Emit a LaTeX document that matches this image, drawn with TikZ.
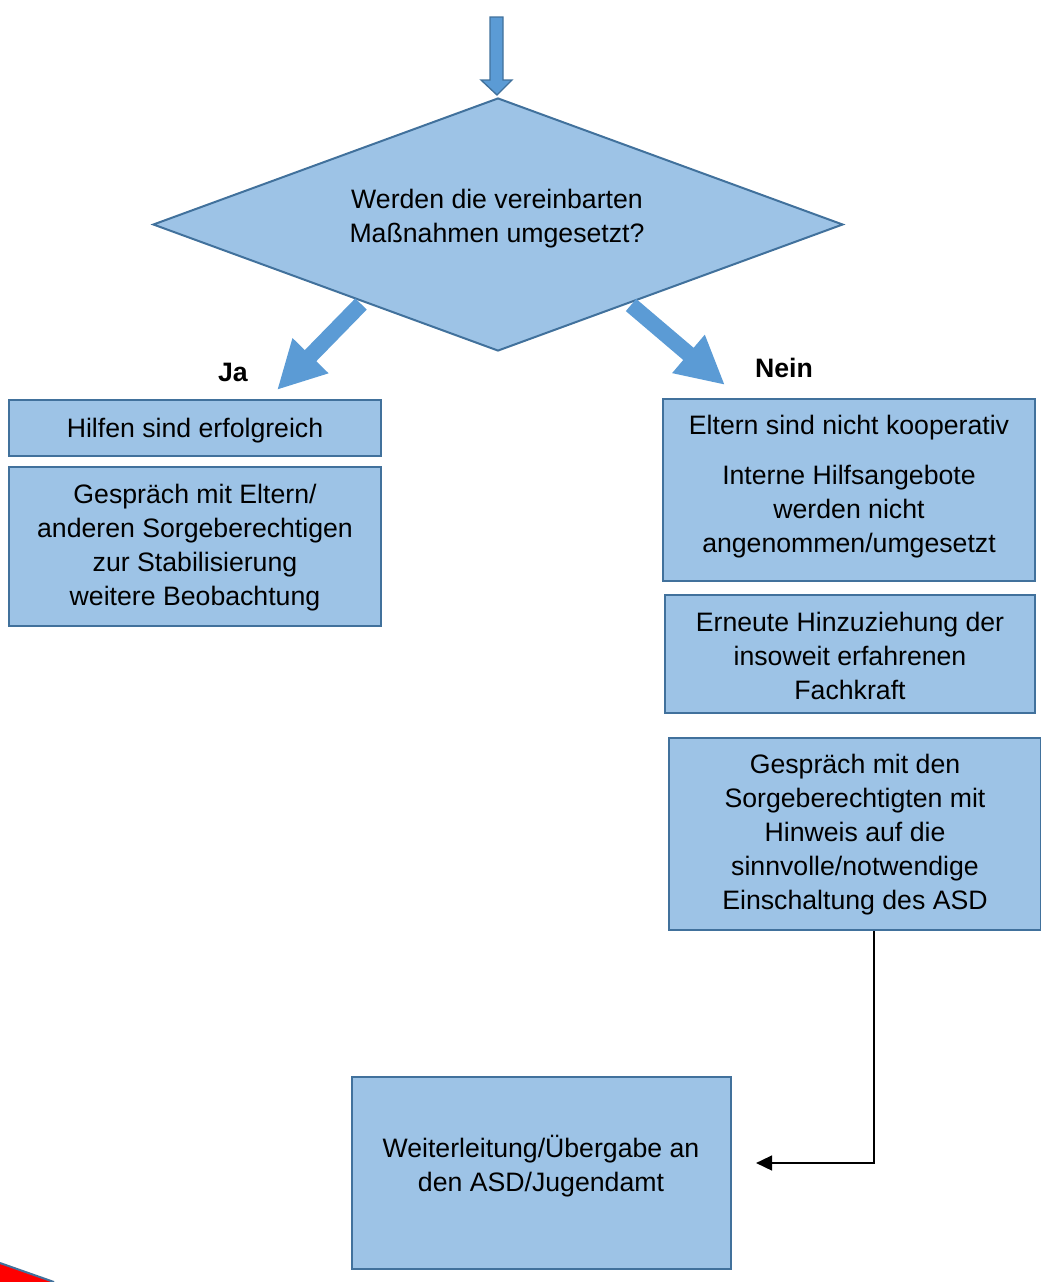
\documentclass[tikz,border=0pt]{standalone}
\usepackage{fontspec}
\setmainfont{Liberation Sans}
\usetikzlibrary{shapes.geometric,arrows.meta}
\definecolor{boxfill}{HTML}{9DC3E6}
\definecolor{boxline}{HTML}{41719C}
\definecolor{arrfill}{HTML}{5B9BD5}
\begin{document}
\begin{tikzpicture}[x=0.75pt,y=-0.75pt,
 box/.style={draw=boxline, fill=boxfill, line width=1.5pt, inner sep=0pt},
 txt/.style={align=center, font=\fontsize{20}{25.5}\selectfont, inner sep=0pt},
 lbl/.style={font=\fontsize{20}{24}\selectfont\bfseries, inner sep=0pt},
 bigarrow/.style={draw=arrfill, line width=12pt, -{Triangle[length=36pt,width=35pt]}},
 conn/.style={black, line width=1.8pt, -{Triangle[length=12pt,width=11pt]}}
]
\useasboundingbox (0,0) rectangle (1041,1282);

% top arrow
\filldraw[fill=arrfill, draw=boxline, line width=1pt]
  (490,17) -- (503,17) -- (503,80) -- (512,80) -- (497,95) -- (481,80) -- (490,80) -- cycle;

% decision diamond
\node[shape=diamond, draw=boxline, fill=boxfill, line width=1.5pt, inner sep=0pt,
  minimum width=690*0.75pt, minimum height=253*0.75pt, aspect=2.727] (dec) at (498,224.5) {};
\node[txt] (dect) at (497,219) {Werden die vereinbarten\\Maßnahmen umgesetzt?};

% Ja / Nein
\node[lbl] (ja) at (233,372) {Ja};
\node[lbl] (nein) at (784,368) {Nein};

% diagonal arrows
\coordinate (ls) at (361,304);
\coordinate (lt) at (277,390);
\coordinate (rs) at (631,305);
\coordinate (rt) at (725,385);
\draw[bigarrow] (ls) -- (lt);
\draw[bigarrow] (rs) -- (rt);

% left boxes
\node[box, minimum width=372*0.75pt, minimum height=56*0.75pt] (l1) at (195,428) {};
\node[txt] (l1t) at (195,430.5) {Hilfen sind erfolgreich};
\node[box, minimum width=372*0.75pt, minimum height=159*0.75pt] (l2) at (195,546.5) {};
\node[txt] (l2t) at (195,547.5) {Gespräch mit Eltern/\\anderen Sorgeberechtigen\\zur Stabilisierung\\weitere Beobachtung};

% right boxes
\node[box, minimum width=372*0.75pt, minimum height=182*0.75pt] (r1) at (849,490) {};
\node[txt] (r1t) at (849,487) {Eltern sind nicht kooperativ\\[12pt]Interne Hilfsangebote\\werden nicht\\angenommen/umgesetzt};
\node[box, minimum width=370*0.75pt, minimum height=118*0.75pt] (r2) at (850,654) {};
\node[txt] (r2t) at (850,656) {Erneute Hinzuziehung der\\insoweit erfahrenen\\Fachkraft};
\node[box, minimum width=372*0.75pt, minimum height=192*0.75pt] (r3) at (855,834) {};
\node[txt] (r3t) at (855,835) {Gespräch mit den\\Sorgeberechtigten mit\\Hinweis auf die\\sinnvolle/notwendige\\Einschaltung des ASD};

% bottom box
\node[box, minimum width=379*0.75pt, minimum height=192*0.75pt] (b) at (541.5,1173) {};
\node[txt] (bt) at (541,1166) {Weiterleitung/Übergabe an\\den ASD/Jugendamt};

% connector
\coordinate (ce) at (756,1163);
\draw[conn] ([xshift=19*0.75pt]r3.south) |- (ce);

% red corner fragment
\fill[red] (0,1263) -- (54,1282) -- (0,1282) -- cycle;
\draw[boxline, line width=1.5pt] (0,1263) -- (54,1282);
\end{tikzpicture}
\end{document}
